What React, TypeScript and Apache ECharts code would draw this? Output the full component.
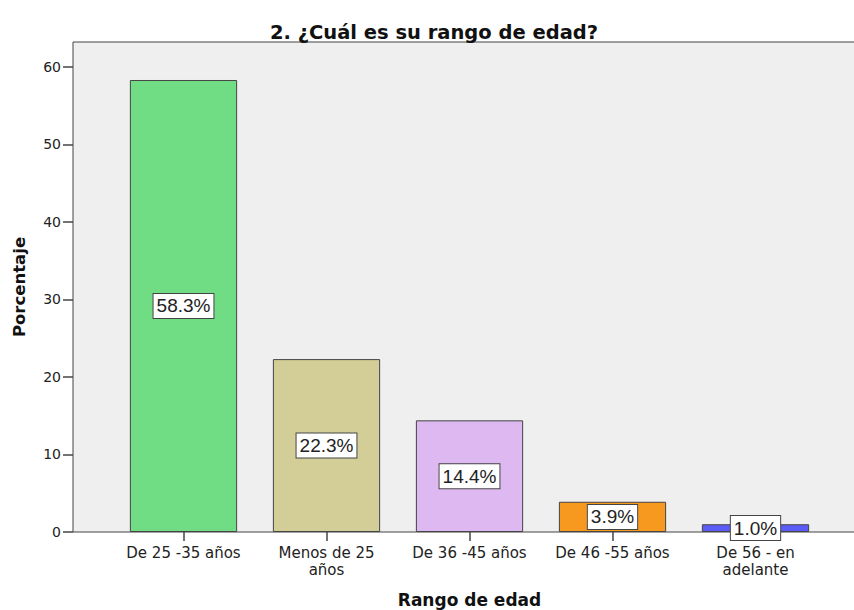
import React, { useEffect, useRef } from "react";
import * as echarts from "echarts";

const titleText = "2. ¿Cuál es su rango de edad?";
const categories = ["De 25 -35 años", "Menos de 25\naños", "De 36 -45 años", "De 46 -55 años", "De 56 - en\nadelante"];
const percentages = [58.3, 22.3, 14.4, 3.9, 1.0];
const barColors = ["#70DC84", "#D3CE97", "#DEB8F0", "#F7991E", "#5B5BF7"];
const yTicks = [0, 10, 20, 30, 40, 50, 60];
const yMax = 63.2;
const xName = "Rango de edad";
const yName = "Porcentaje";

export default function App() {
  const ref = useRef<HTMLDivElement>(null);
  useEffect(() => {
    document.body.style.margin = "0";
    const chart = echarts.init(ref.current!, null, { renderer: "svg" });
    chart.setOption({
      animation: false,
      title: {
        text: titleText,
        left: 429,
        top: 17,
        textAlign: "center",
        textStyle: { fontFamily: "DejaVu Sans", fontWeight: "bold", fontSize: 19.5, color: "#111" },
      },
      grid: [
        { left: 73, top: 42, right: -10, bottom: 78, show: true, backgroundColor: "#EFEFEF", borderColor: "#444", borderWidth: 1, outerBoundsMode: "none", containLabel: false },
        { left: 112, top: 42, right: 27, bottom: 78, outerBoundsMode: "none", containLabel: false },
      ],
      xAxis: [
        { gridIndex: 0, type: "value", show: false },
        {
          gridIndex: 1,
          type: "category",
          data: categories,
          axisLine: { show: false },
          axisTick: { show: true, alignWithLabel: true, length: 9, lineStyle: { color: "#444", width: 1.5 } },
          axisLabel: { margin: 13, fontFamily: "DejaVu Sans", fontSize: 15, lineHeight: 16.5, color: "#222", interval: 0 },
          name: xName,
          nameLocation: "middle",
          nameGap: 59,
          nameTextStyle: { fontFamily: "DejaVu Sans", fontWeight: "bold", fontSize: 17, color: "#111" },
        },
      ],
      yAxis: [
        { gridIndex: 0, type: "value", show: false },
        {
          gridIndex: 1,
          type: "value",
          min: 0,
          max: yMax,
          offset: 39,
          splitLine: { show: false },
          axisLine: { show: false },
          axisTick: { show: true, length: 10, customValues: yTicks, lineStyle: { color: "#444", width: 1.5 } },
          axisLabel: { margin: 12, customValues: yTicks, fontFamily: "DejaVu Sans", fontSize: 14, color: "#222" },
          name: yName,
          nameLocation: "middle",
          nameGap: 45,
          nameTextStyle: { fontFamily: "DejaVu Sans", fontWeight: "bold", fontSize: 16.5, color: "#111" },
        },
      ],
      series: [
        {
          type: "bar",
          xAxisIndex: 1,
          yAxisIndex: 1,
          barWidth: "75%",
          data: percentages.map((v, i) => ({
            value: v,
            itemStyle: { color: barColors[i], borderColor: "#444", borderWidth: 1 },
          })),
          label: {
            show: true,
            position: "inside",
            formatter: (p: any) => p.value.toFixed(1) + "%",
            fontFamily: "Liberation Sans",
            fontSize: 19,
            color: "#222",
            backgroundColor: "#fff",
            borderColor: "#444",
            borderWidth: 1,
            padding: [3, 3, 2, 3],
          },
        },
      ],
    });
    return () => chart.dispose();
  }, []);
  return <div ref={ref} style={{ width: 854, height: 610 }} />;
}
